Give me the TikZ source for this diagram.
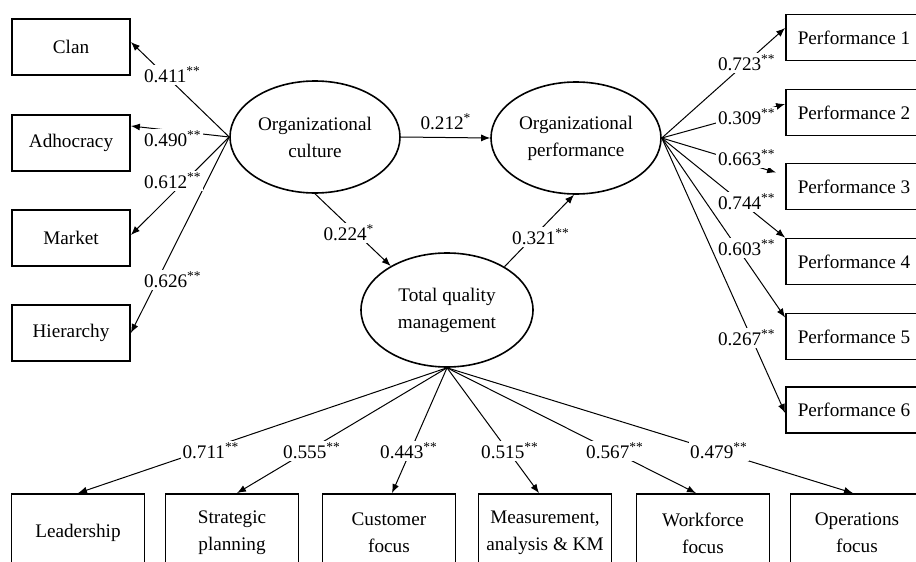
\documentclass[tikz,border=0pt]{standalone}
\usepackage{fontspec}
\setmainfont{Liberation Serif}
\usetikzlibrary{shapes.geometric,arrows.meta}
\begin{document}
\begin{tikzpicture}[x=0.5pt,y=-0.5pt,
  font=\fontsize{9.6}{13.5}\selectfont,
  box/.style={draw, line width=0.9pt, fill=white, align=center, inner sep=0pt},
  sbox/.style={box, minimum width=59pt, minimum height=28pt},
  rbox/.style={box, minimum width=68pt, minimum height=23pt},
  bbox/.style={box, minimum width=66.5pt, minimum height=39pt},
  lat/.style={draw, ellipse, line width=0.8pt, fill=white, minimum width=85pt, minimum height=56pt, inner sep=0pt, align=center},
  conn/.style={line width=0.5pt, -{Latex[length=4.5pt,width=3.5pt]}},
  lbl/.style={fill=white, inner sep=0.8pt}]
\useasboundingbox (0,0) rectangle (916,562);
\clip (0,0) rectangle (916,562);
\fill[white] (0,0) rectangle (916,562);

% left indicator boxes
\node[sbox] (clan)   at (71,47)  {Clan};
\node[sbox] (adh)    at (71,143) {Adhocracy};
\node[sbox] (market) at (71,238) {Market};
\node[sbox] (hier)   at (71,333) {Hierarchy};

% right indicator boxes
\node[rbox] (p1) at (854,37.5)  {Performance 1};
\node[rbox] (p2) at (854,112.5) {Performance 2};
\node[rbox] (p3) at (854,186.5) {Performance 3};
\node[rbox] (p4) at (854,261.5) {Performance 4};
\node[rbox] (p5) at (854,336.5) {Performance 5};
\node[rbox] (p6) at (854,410)   {Performance 6};

% bottom indicator boxes
\node[bbox] (lead) at (78,533)  {Leadership};
\node[bbox] (strat) at (232,533) {Strategic\\planning};
\node[bbox] (cust) at (389,533) {Customer\\focus};
\node[bbox] (meas) at (545,533) {Measurement,\\analysis \& KM};
\node[bbox] (work) at (703,533) {Workforce\\focus};
\node[bbox] (oper) at (857,533) {Operations\\focus};

% latent variables
\node[lat] (oc)  at (315,137) {Organizational\\culture};
\node[lat] (op)  at (576,138) {Organizational\\performance};
\node[lat, minimum width=86pt, minimum height=57pt] (tqm) at (447,310) {Total quality\\management};

% connectors
\draw[conn] (oc.west) -- ([yshift=2.5pt]clan.east);
\draw[conn] (oc.west) -- ([yshift=8.5pt]adh.east);
\draw[conn] (oc.west) -- ([yshift=1.5pt]market.east);
\draw[conn] (oc.west) -- (hier.east);
\draw[conn] (oc.east) -- (op.west);
\draw[conn] (oc.south) -- (tqm.142);
\draw[conn] (tqm.37) -- (op.268);

\draw[conn] (op.east) -- ([yshift=4.75pt]p1.west);
\draw[conn] (op.east) -- ([yshift=4.25pt]p2.west);
\draw[conn] (op.east) -- ([xshift=-4.5pt,yshift=7pt]p3.west);
\draw[conn] (op.east) -- (p4.north west);
\draw[conn] (op.east) -- ([yshift=9.5pt]p5.west);
\draw[conn] (op.east) -- ([yshift=-1.5pt]p6.west);

\draw[conn] (tqm.south) -- (lead.north);
\draw[conn] (tqm.south) -- ([xshift=2.5pt]strat.north);
\draw[conn] (tqm.south) -- ([xshift=1.5pt]cust.north);
\draw[conn] (tqm.south) -- ([xshift=-3pt]meas.north);
\draw[conn] (tqm.south) -- ([xshift=-3.5pt]work.north);
\draw[conn] (tqm.south) -- ([xshift=-2pt]oper.north);

% coefficient labels
\node[lbl, anchor=west] (l411) at (142,75)  {0.411\textsuperscript{**}};
\node[lbl, anchor=west] (l490) at (142,139) {0.490\textsuperscript{**}};
\node[lbl, anchor=west] (l612) at (142,181) {0.612\textsuperscript{**}};
\node[lbl, anchor=west] (l626) at (142,280) {0.626\textsuperscript{**}};

\node[lbl] (l212) at (446,122) {0.212\textsuperscript{*}};
\node[lbl] (l224) at (349,233) {0.224\textsuperscript{*}};
\node[lbl] (l321) at (541,237) {0.321\textsuperscript{**}};

\node[lbl, anchor=west] (l723) at (716,63)  {0.723\textsuperscript{**}};
\node[lbl, anchor=west] (l309) at (716,117) {0.309\textsuperscript{**}};
\node[lbl, anchor=west] (l663) at (716,158) {0.663\textsuperscript{**}};
\node[lbl, anchor=west] (l744) at (716,202) {0.744\textsuperscript{**}};
\node[lbl, anchor=west] (l603) at (716,248) {0.603\textsuperscript{**}};
\node[lbl, anchor=west] (l267) at (716,338) {0.267\textsuperscript{**}};

\node[lbl] (l711) at (211,451) {0.711\textsuperscript{**}};
\node[lbl] (l555) at (312,451) {0.555\textsuperscript{**}};
\node[lbl] (l443) at (409,451) {0.443\textsuperscript{**}};
\node[lbl] (l515) at (510,451) {0.515\textsuperscript{**}};
\node[lbl] (l567) at (615,451) {0.567\textsuperscript{**}};
\node[lbl] (l479) at (719,451) {0.479\textsuperscript{**}};
\end{tikzpicture}
\end{document}
